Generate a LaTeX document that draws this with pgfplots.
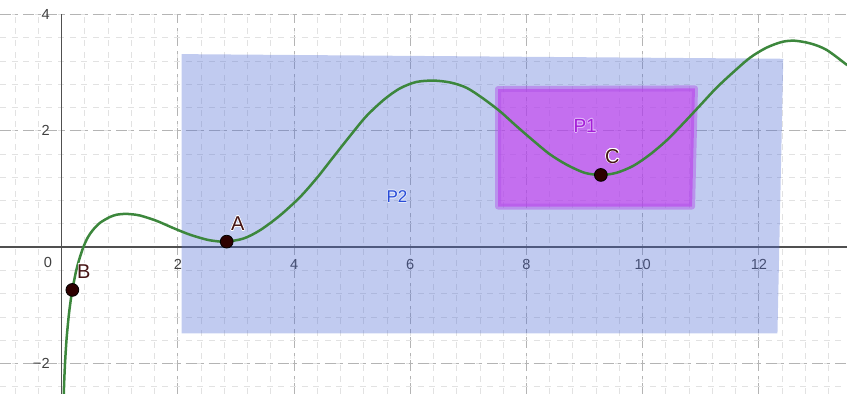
\documentclass[border=0pt]{standalone}
\usepackage{fontspec}
\setmainfont{Liberation Sans}
\usepackage{pgfplots}
\pgfplotsset{compat=1.18}
\usepackage{contour}
\contourlength{0.3pt}
\definecolor{gridmaj}{RGB}{180,180,180}
\definecolor{gridmin}{RGB}{226,226,226}
\definecolor{p2col}{RGB}{78,106,212}
\definecolor{p1col}{RGB}{198,51,240}
\definecolor{p1edge}{RGB}{176,80,232}
\definecolor{curvecol}{RGB}{60,135,60}
\definecolor{ptcol}{RGB}{45,0,0}
\definecolor{axcol}{RGB}{80,80,80}
\definecolor{lblcol}{RGB}{70,20,20}
\definecolor{p1txt}{RGB}{165,30,215}
\definecolor{p1out}{RGB}{225,180,250}
\definecolor{p2txt}{RGB}{40,75,215}
\definecolor{p2out}{RGB}{225,232,252}
\begin{document}
\begin{tikzpicture}
\begin{axis}[
  scale only axis, width=423.5pt, height=190pt,
  xmin=-1.062, xmax=13.517, ymin=-2.523, ymax=4.01,
  axis lines=middle,
  axis line style={-, draw=axcol, line width=0.75pt},
  xtick={0,2,...,12}, xticklabels={{},2,4,6,8,10,12},
  ytick={-2,0,2,4}, yticklabels={−2,{},2,4},
  minor xtick={-0.8,-0.4,...,13.2},
  minor ytick={-2.4,-2,...,4},
  grid=both,
  major grid style={draw=gridmaj, line width=0.5pt, dash pattern=on 5.5pt off 2pt on 1.6pt off 2.5pt},
  minor grid style={draw=gridmin, line width=0.5pt, dash pattern=on 3pt off 2.8pt},
  major tick length=0pt, minor tick length=0pt,
  tick label style={font=\fontsize{7.3}{8}\selectfont, text=black!75},
  xticklabel style={yshift=-2.5pt},
  yticklabel style={xshift=-2.5pt},
]
% P2
\addplot[fill=p2col, fill opacity=0.35, draw=none] coordinates {(2.065,3.32) (12.42,3.24) (12.32,-1.48) (2.065,-1.48)} --cycle;
% P1
\addplot[fill=p1col, fill opacity=0.6, draw=p1edge, draw opacity=0.45, line width=3pt, line join=round] coordinates {(7.51,2.72) (10.90,2.73) (10.85,0.70) (7.51,0.70)} --cycle;
% curve
\addplot[curvecol, line width=1.25pt, smooth] coordinates {
(0.033,-2.6) (0.045,-2.26) (0.057,-2.0) (0.07,-1.78) (0.086,-1.55) (0.12,-1.19) (0.15,-0.95)
(0.183,-0.734) (0.25,-0.40) (0.32,-0.15) (0.38,0.02) (0.45,0.17) (0.54,0.30) (0.66,0.42)
(0.83,0.52) (0.95,0.56) (1.09,0.573) (1.2,0.567) (1.35,0.545) (1.63,0.455) (1.92,0.33)
(2.21,0.215) (2.50,0.13) (2.70,0.10) (2.84,0.096) (3.13,0.15) (3.41,0.29) (3.75,0.54)
(4.10,0.86) (4.40,1.20) (4.675,1.55) (5.0,1.96) (5.25,2.26) (5.55,2.54) (5.82,2.73)
(6.10,2.84) (6.40,2.865) (6.70,2.83) (6.97,2.74) (7.25,2.56) (7.54,2.34) (7.83,2.08)
(8.12,1.83) (8.40,1.60) (8.69,1.42) (9.00,1.28) (9.28,1.243) (9.55,1.28) (9.84,1.40)
(10.12,1.59) (10.41,1.835) (10.70,2.13) (10.99,2.44) (11.27,2.74) (11.56,3.01)
(11.85,3.26) (12.13,3.43) (12.40,3.53) (12.62,3.55) (12.90,3.50) (13.17,3.39) (13.52,3.13)
};
% points
\addplot[only marks, mark=*, mark size=3.2pt, mark options={fill=ptcol, draw=black, line width=0.4pt}] coordinates {(2.84,0.096) (0.183,-0.734) (9.28,1.243)};
% labels
\node[font=\fontsize{7.3}{8}\selectfont, text=black!75] at (axis cs:-0.235,-0.26) {0};
\node[font=\fontsize{10}{11}\selectfont, text=lblcol] at (axis cs:3.03,0.40) {\contour{white}{A}};
\node[font=\fontsize{10}{11}\selectfont, text=lblcol] at (axis cs:0.38,-0.42) {\contour{white}{B}};
\node[font=\fontsize{10}{11}\selectfont, text=lblcol] at (axis cs:9.48,1.56) {\contour{white}{C}};
\node[font=\fontsize{9.5}{10}\selectfont, text=p1txt] at (axis cs:9.01,2.08) {\contour{p1out}{P1}};
\node[font=\fontsize{8.5}{10}\selectfont, text=p2txt] at (axis cs:5.77,0.865) {\contour{p2out}{P2}};
\end{axis}
\pgfresetboundingbox
\path[use as bounding box] (current axis.south west) rectangle ([yshift=7pt]current axis.north east);
\end{tikzpicture}
\end{document}
